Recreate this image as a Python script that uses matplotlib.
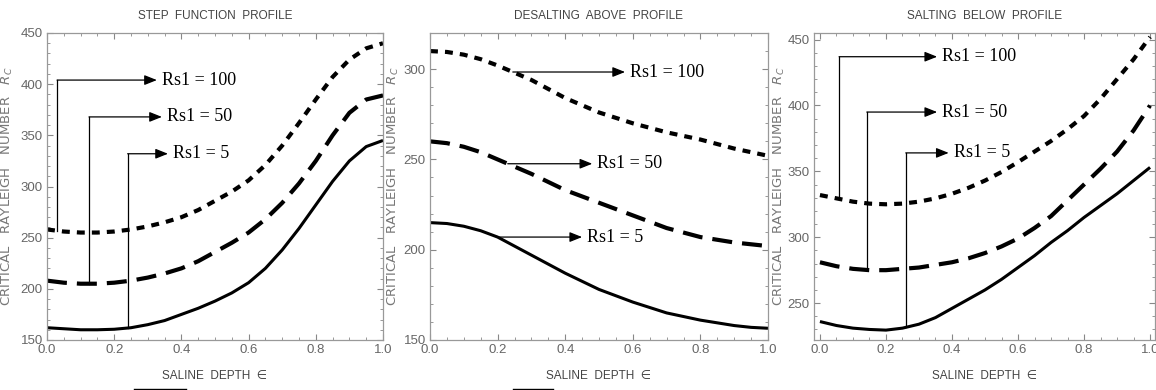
import numpy as np
import matplotlib.pyplot as plt
from matplotlib.ticker import MultipleLocator

# saline depth positions
eps = [0.0, 0.05, 0.1, 0.15, 0.2, 0.25, 0.3, 0.35, 0.4, 0.45, 0.5,
       0.55, 0.6, 0.65, 0.7, 0.75, 0.8, 0.85, 0.9, 0.95, 1.0]

# step function profile
step_rs5 = [162, 161, 160, 160, 160.5, 162, 165, 169, 175, 181, 188,
            196, 206, 220, 238, 259, 282, 305, 325, 339, 345]
step_rs50 = [208, 206, 205, 205, 206, 208, 211, 215, 220, 227, 236,
             245, 255, 268, 284, 303, 325, 350, 372, 385, 389]
step_rs100 = [258, 256, 255, 255, 256, 258, 261, 265, 270, 277, 286,
              295, 306, 321, 340, 362, 385, 407, 424, 435, 440]

# desalting above profile
desalt_rs5 = [215, 214.5, 213, 210.5, 207, 202, 197, 192, 187, 182.5, 178,
              174.5, 171, 168, 165, 163, 161, 159.5, 158, 157, 156.5]
desalt_rs50 = [260, 259, 257, 254, 250, 246, 242, 237.5, 233, 229.5, 226,
               222.5, 219, 215.5, 212, 209.5, 207, 205.5, 204, 203, 202]
desalt_rs100 = [310, 309.5, 308, 305.5, 302, 298, 294, 289, 284, 280, 276,
                273, 270, 267.5, 265, 263, 261, 258.5, 256, 254, 252]

# salting below profile
salt_rs5 = [236, 233, 231, 230, 229.5, 231, 234, 239, 246, 253, 260,
            268, 277, 286, 296, 305, 315, 324, 333, 343, 353]
salt_rs50 = [281, 278, 276, 275, 275, 276, 277, 279, 281, 284, 288,
             293, 299, 307, 316, 328, 340, 352, 365, 381, 400]
salt_rs100 = [332, 329.5, 327, 325.5, 325, 325.5, 327, 329.5, 333, 337.5, 343,
              349.5, 357, 365, 373, 382, 392, 405, 420, 435, 452]

titles = ["STEP  FUNCTION  PROFILE", "DESALTING  ABOVE  PROFILE", "SALTING  BELOW  PROFILE"]
labels = ["Rs1 = 5", "Rs1 = 50", "Rs1 = 100"]

narrow = ["Liberation Sans", "DejaVu Sans"]
grey = "#666666"

fig = plt.figure(figsize=(11.56, 3.9), dpi=100)
ax1 = fig.add_axes([47 / 1156, 50 / 390, 336 / 1156, 307 / 390])
ax2 = fig.add_axes([430 / 1156, 50 / 390, 338 / 1156, 307 / 390])
ax3 = fig.add_axes([814 / 1156, 50 / 390, 341 / 1156, 307 / 390])


def draw_curves(ax, s5, s50, s100):
    ax.plot(eps, s5, color="black", lw=2.2, solid_capstyle="butt", solid_joinstyle="round")
    ax.plot(eps, s50, color="black", lw=3.0, dashes=(4.8, 2.4), dash_capstyle="butt")
    ax.plot(eps, s100, color="black", lw=3.0, dashes=(1.9, 1.7), dash_capstyle="butt")


def style(ax, title, ylim, xlim, yticks, label_x):
    ax.set_xlim(*xlim)
    ax.set_ylim(*ylim)
    ax.set_xticks([0.0, 0.2, 0.4, 0.6, 0.8, 1.0])
    ax.set_yticks(yticks)
    ax.xaxis.set_minor_locator(MultipleLocator(0.05))
    ax.yaxis.set_minor_locator(MultipleLocator(10))
    ax.tick_params(which="both", direction="in", top=True, right=True, colors="#888888",
                   labelcolor=grey, labelsize=9.5, pad=3)
    ax.tick_params(which="major", length=4, width=0.8)
    ax.tick_params(which="minor", length=2, width=0.6)
    for lab in ax.get_xticklabels() + ax.get_yticklabels():
        lab.set_family(narrow)
    for sp in ax.spines.values():
        sp.set_color("#999999")
        sp.set_linewidth(0.9)
    ax.set_title(title, family=narrow, fontsize=8.5, color="#444444", pad=10)
    ax.set_xlabel("SALINE  DEPTH  \u2208", family=narrow, fontsize=8.5, color="#444444", labelpad=10)
    ax.set_ylabel("CRITICAL   RAYLEIGH   NUMBER   $R_C$", fontsize=9.5, color="#777777")
    ax.yaxis.set_label_coords(label_x, 0.5)


arrow = dict(arrowstyle="-|>,head_length=0.5,head_width=0.2", color="black", lw=0.9,
             mutation_scale=15, shrinkA=0, shrinkB=0)


def elbow(ax, curve, x0, y0, x1, text):
    # vertical from curve up to the corner, then arrow to the label
    ax.plot([x0, x0], [np.interp(x0, eps, curve), y0], color="black", lw=0.9)
    ax.annotate("", xy=(x1, y0), xytext=(x0, y0), arrowprops=arrow)
    ax.text(x1 + 0.015, y0, text, family="Liberation Serif", fontsize=13, va="center")


def straight(ax, curve, x0, x1, text):
    y0 = np.interp(x0, eps, curve)
    ax.annotate("", xy=(x1, y0), xytext=(x0, y0), arrowprops=arrow)
    ax.text(x1 + 0.015, y0, text, family="Liberation Serif", fontsize=13, va="center")


draw_curves(ax1, step_rs5, step_rs50, step_rs100)
style(ax1, titles[0], (150, 450), (0, 1), [150, 200, 250, 300, 350, 400, 450], -0.095)
elbow(ax1, step_rs100, 0.03, 404, 0.327, labels[2])
elbow(ax1, step_rs50, 0.125, 368, 0.342, labels[1])
elbow(ax1, step_rs5, 0.24, 332, 0.36, labels[0])

draw_curves(ax2, desalt_rs5, desalt_rs50, desalt_rs100)
style(ax2, titles[1], (150, 320), (0, 1), [150, 200, 250, 300], -0.085)
straight(ax2, desalt_rs100, 0.245, 0.577, labels[2])
straight(ax2, desalt_rs50, 0.23, 0.48, labels[1])
straight(ax2, desalt_rs5, 0.2, 0.45, labels[0])

draw_curves(ax3, salt_rs5, salt_rs50, salt_rs100)
style(ax3, titles[2], (222, 455), (-0.018, 1.015), [250, 300, 350, 400, 450], -0.08)
elbow(ax3, salt_rs100, 0.058, 437, 0.355, labels[2])
elbow(ax3, salt_rs50, 0.142, 395, 0.355, labels[1])
elbow(ax3, salt_rs5, 0.26, 364, 0.39, labels[0])

# small cropped box edges below the first two panels
fig.add_artist(plt.Line2D([134 / 1156, 186 / 1156], [1.5 / 390, 1.5 / 390], color="black", lw=1))
fig.add_artist(plt.Line2D([513 / 1156, 553 / 1156], [1.5 / 390, 1.5 / 390], color="black", lw=1))

fig.savefig("out.png", dpi=100)
